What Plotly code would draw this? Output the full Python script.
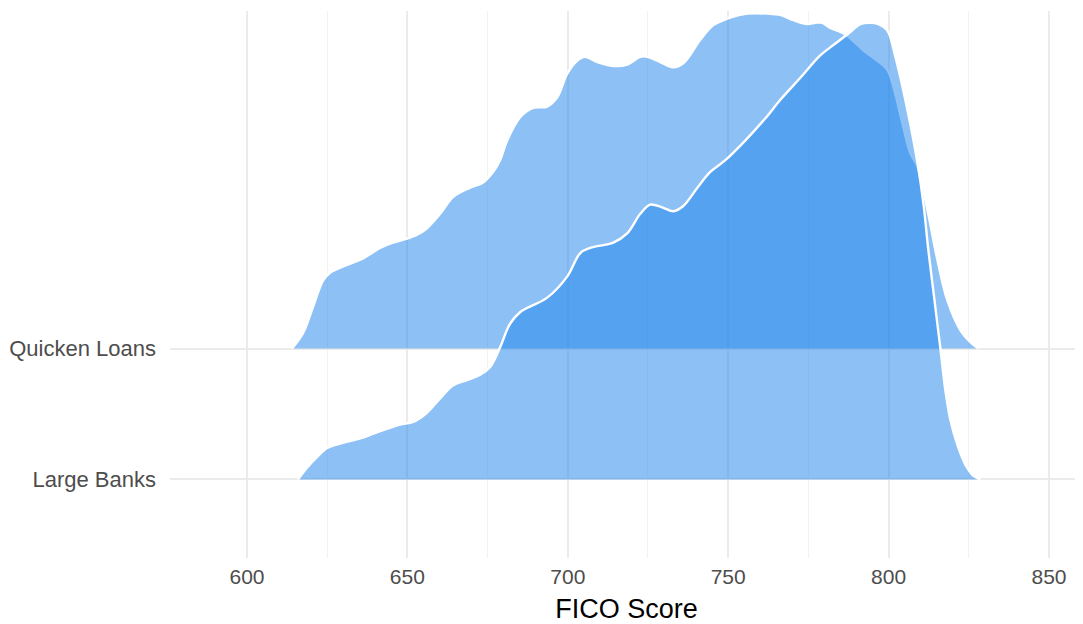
import plotly.graph_objects as go

# FICO score distributions (ridgeline), heights in units of row spacing
ql_score = [614.0, 617.5, 620.6, 623.7, 625.9, 631.2, 636.2, 641.5, 645.5, 649.9,
            653.0, 656.1, 660.2, 664.3, 669.6, 673.6, 676.7, 678.9, 681.1, 685.2,
            689.2, 693.6, 696.7, 699.8, 702.9, 705.4, 709.2, 714.2, 718.5, 722.6,
            724.8, 727.9, 732.9, 736.0, 741.3, 745.3, 750.6, 756.0, 762.2, 766.2,
            770.3, 774.7, 777.2, 779.3, 781.8, 785.0, 787.1, 792.1, 796.5, 799.6,
            801.5, 804.6, 806.8, 809.0, 812.1, 815.2, 818.3, 822.4, 825.5, 828.0]
ql_height = [0.00, 0.12, 0.32, 0.52, 0.58, 0.64, 0.69, 0.77, 0.81, 0.84,
             0.87, 0.92, 1.03, 1.16, 1.23, 1.27, 1.35, 1.44, 1.59, 1.77,
             1.84, 1.85, 1.92, 2.10, 2.20, 2.23, 2.19, 2.16, 2.17, 2.23,
             2.23, 2.20, 2.15, 2.18, 2.36, 2.47, 2.53, 2.56, 2.56, 2.55,
             2.51, 2.48, 2.49, 2.49, 2.45, 2.42, 2.39, 2.28, 2.20, 2.13,
             2.00, 1.69, 1.49, 1.39, 1.06, 0.68, 0.37, 0.14, 0.05, 0.00]

lb_score = [615.9, 618.7, 621.8, 625.0, 629.9, 636.2, 641.5, 647.7, 651.8, 656.1,
            660.2, 664.3, 668.6, 672.7, 675.8, 678.9, 682.0, 685.2, 687.3, 693.6,
            699.8, 703.9, 707.0, 714.2, 718.5, 722.6, 725.7, 729.4, 732.9, 736.0,
            740.4, 744.4, 749.1, 755.3, 761.6, 766.2, 772.5, 778.7, 782.8, 788.1,
            791.2, 794.3, 796.8, 799.6, 802.1, 805.9, 809.0, 810.9, 812.4, 814.3,
            816.2, 817.7, 819.3, 821.5, 824.0, 826.4, 828.6]
lb_height = [0.00, 0.09, 0.17, 0.24, 0.28, 0.32, 0.37, 0.42, 0.44, 0.51,
             0.62, 0.72, 0.76, 0.80, 0.86, 1.01, 1.19, 1.28, 1.31, 1.39,
             1.55, 1.73, 1.77, 1.81, 1.88, 2.03, 2.10, 2.08, 2.05, 2.09,
             2.23, 2.35, 2.44, 2.59, 2.76, 2.90, 3.07, 3.24, 3.32, 3.42,
             3.48, 3.49, 3.48, 3.43, 3.23, 2.82, 2.42, 2.10, 1.75, 1.37,
             0.99, 0.68, 0.45, 0.26, 0.11, 0.03, 0.00]

categories = ["Large Banks", "Quicken Loans"]
x_ticks = [600, 650, 700, 750, 800, 850]

FILL = "rgba(28,132,236,0.5)"

fig = go.Figure()
# top ridge first, lower ridge drawn over it (ggridges order)
for base, xs, hs in [(1, ql_score, ql_height), (0, lb_score, lb_height)]:
    fig.add_trace(go.Scatter(x=[xs[0], xs[-1]], y=[base, base], mode="lines",
                             line=dict(width=0), hoverinfo="skip", showlegend=False))
    fig.add_trace(go.Scatter(x=xs, y=[base + h for h in hs], mode="lines",
                             fill="tonexty", fillcolor=FILL,
                             line=dict(color="white", width=2.4, shape="spline", smoothing=1.0),
                             hoverinfo="skip", showlegend=False))

# page body has an 8px margin, so the figure is 8px smaller than the window
fig.update_layout(
    width=1075, height=616,
    margin=dict(l=162, r=0, t=3, b=66),
    plot_bgcolor="white", paper_bgcolor="white",
    font=dict(family="Liberation Sans, Arial, sans-serif", size=22, color="#4D4D4D"),
    xaxis=dict(
        range=[576, 860.6], tickvals=x_ticks, ticks="", showline=False, zeroline=False,
        automargin=False, ticklabelstandoff=4,
        gridcolor="#EBEBEB", gridwidth=2,
        minor=dict(dtick=25, tick0=575, gridcolor="#F2F2F2", gridwidth=1, showgrid=True),
        title=dict(text="FICO Score", font=dict(size=27, color="black"), standoff=14),
        tickfont=dict(size=21),
    ),
    yaxis=dict(
        range=[-0.6, 3.58], tickvals=[0, 1], ticktext=categories, ticks="",
        showline=False, zeroline=False, gridcolor="#EBEBEB", gridwidth=2,
        automargin=False, ticklabelstandoff=13,
    ),
)

fig.write_html("out.html")
